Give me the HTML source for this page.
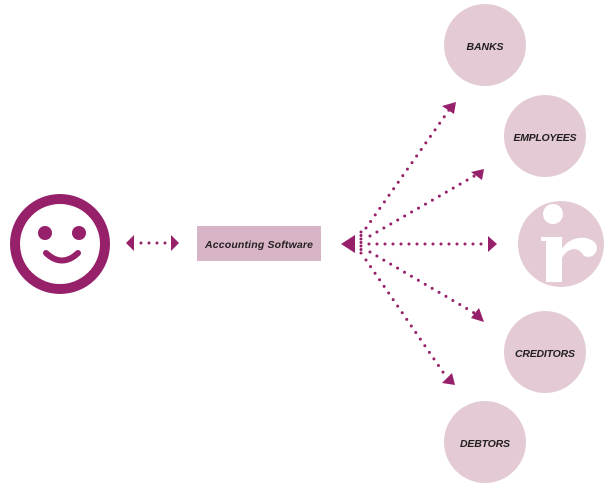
<!DOCTYPE html>
<html><head><style>
html,body{margin:0;padding:0;background:#fff;width:611px;height:489px;overflow:hidden}
text{font-family:"Liberation Sans",sans-serif;font-style:italic;font-weight:bold;fill:#231f20}
</style></head><body>
<svg width="611" height="489" viewBox="0 0 611 489" xmlns="http://www.w3.org/2000/svg">
<g fill="#e3cad5">
<circle cx="485" cy="45" r="41"/>
<circle cx="545" cy="136" r="41"/>
<circle cx="561" cy="244" r="43"/>
<circle cx="545" cy="352" r="41"/>
<circle cx="485" cy="442" r="41"/>
</g>
<text x="485" y="50" font-size="10.5" text-anchor="middle" textLength="37">BANKS</text>
<text x="545" y="141" font-size="10.5" text-anchor="middle" textLength="63">EMPLOYEES</text>
<text x="545" y="357" font-size="10.5" text-anchor="middle" textLength="60">CREDITORS</text>
<text x="485" y="447" font-size="10.5" text-anchor="middle" textLength="50">DEBTORS</text>
<g fill="#fff">
<circle cx="553" cy="214" r="10"/>
<path d="M541 237 L562 237 L562 282 L546 282 L546 241 L541 241 Z"/>
<path d="M561 250 Q570 236 586 238 Q600 242 596 252 Q592 259 584 256 Q580 249 574 249 Q566 250 562 258 Z"/>
</g>
<circle cx="60" cy="244" r="45" fill="none" stroke="#97206a" stroke-width="10"/>
<circle cx="45" cy="233" r="7" fill="#97206a"/>
<circle cx="79" cy="233" r="7" fill="#97206a"/>
<path d="M46 253 Q62 268 78 253" fill="none" stroke="#97206a" stroke-width="6" stroke-linecap="round"/>
<g fill="#97206a">
<polygon points="126,243 134,235 134,251"/>
<polygon points="179,243 171,235 171,251"/>
</g>
<line x1="141" y1="243" x2="166" y2="243" stroke="#97206a" stroke-width="3" stroke-linecap="round" stroke-dasharray="0 8"/>
<rect x="197" y="226" width="124" height="35" fill="#d8b4c7"/>
<text x="259" y="248" font-size="10.5" text-anchor="middle" textLength="108">Accounting Software</text>
<g fill="#97206a">
<polygon points="341,244 355,235 355,253"/>
<polygon points="497,244 488,236 488,252"/>
<polygon points="456,102 442,106 454,114"/>
<polygon points="484,169 471,172 482,180"/>
<polygon points="484,322 471,318 479,308"/>
<polygon points="455,385 442,383 452,373"/>
</g>
<g fill="none" stroke="#97206a" stroke-width="3" stroke-linecap="round" stroke-dasharray="0 8">
<line x1="361" y1="232" x2="361" y2="254" stroke-dasharray="0 3.5"/>
<line x1="369" y1="244" x2="483" y2="244"/>
<line x1="366" y1="228" x2="449" y2="110"/>
<line x1="370" y1="236" x2="476" y2="175"/>
<line x1="370" y1="252" x2="476" y2="314"/>
<line x1="366" y1="260" x2="447" y2="378"/>
</g>
</svg>
</body></html>
